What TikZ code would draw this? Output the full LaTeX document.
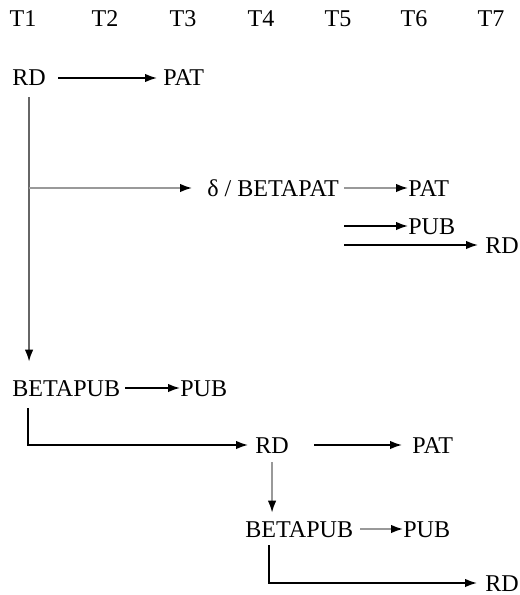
\documentclass[tikz,border=0pt]{standalone}
\usepackage{fontspec}
\setmainfont{Liberation Serif}
\usetikzlibrary{arrows.meta}

\begin{document}
\begin{tikzpicture}[
    x=0.02cm, y=-0.02cm,
    label/.style={inner sep=0pt, text height=0.32cm, text depth=0pt, font=\fontsize{13.7pt}{16pt}\selectfont},
    state/.style={label, anchor=west},
    arrow/.style={-{Latex[length=0.24cm, width=0.17cm, color=black]}, line width=0.9pt, black},
    grayarrow/.style={arrow, black!40},
    grayline/.style={line width=0.9pt, black!60}
]
\useasboundingbox (0,0) rectangle (520,595);

% time steps
\foreach \name/\xpos in {T1/23, T2/105, T3/183, T4/261, T5/338, T6/414, T7/491}
    \node[label] (\name) at (\xpos, 19) {\name};

% first row
\node[state] (rdTop) at (12, 78) {RD};
\node[state] (patTop) at (163, 78) {PAT};

% BETAPAT branch
\node[state] (bpat) at (207, 188) {δ / BETAPAT};
\node[state] (patB) at (408, 188) {PAT};
\node[state] (pubB) at (408, 226) {PUB};
\node[state] (rdB) at (485, 245) {RD};

% BETAPUB branch
\node[state] (bpubA) at (12, 388) {BETAPUB};
\node[state] (pubA) at (180, 388) {PUB};
\node[state] (rdC) at (255, 445) {RD};
\node[state] (patC) at (412, 445) {PAT};
\node[state] (bpubC) at (245, 529) {BETAPUB};
\node[state] (pubC) at (403, 529) {PUB};
\node[state] (rdD) at (485, 583) {RD};

\coordinate (forkA) at (28, 408);
\coordinate (forkC) at (269, 545);

% Arrows
\draw[arrow] ([xshift=0.24cm]rdTop.east) -- ([xshift=-0.12cm]patTop.west);
\draw[grayline] ([yshift=-0.22cm]rdTop.south) -- ([yshift=0.44cm]rdTop.south |- bpubA.north);
\draw[arrow] ([yshift=0.46cm]rdTop.south |- bpubA.north) -- ([yshift=0.36cm]rdTop.south |- bpubA.north);
\draw[grayarrow] (rdTop.south |- bpat.west) -- ([xshift=-0.3cm]bpat.west);

\draw[grayarrow] ([xshift=0.1cm]bpat.east) -- (patB.west);
\draw[arrow] ([xshift=0.1cm]bpat.east |- pubB.west) -- (pubB.west);
\draw[arrow] ([xshift=0.1cm]bpat.east |- rdB.west) -- ([xshift=-0.14cm]rdB.west);

\draw[arrow] ([xshift=0.1cm]bpubA.east) -- (pubA.west);
\draw[arrow] (forkA) |- ([xshift=-0.14cm]rdC.west);
\draw[arrow] ([xshift=0.5cm]rdC.east) -- ([xshift=-0.2cm]patC.west);
\draw[grayarrow] ([yshift=-0.18cm]rdC.south) -- ([yshift=0.16cm]rdC.south |- bpubC.north);

\draw[grayarrow] ([xshift=0.14cm]bpubC.east) -- (pubC.west);
\draw[arrow] (forkC) |- ([xshift=-0.16cm]rdD.west);

\end{tikzpicture}
\end{document}
